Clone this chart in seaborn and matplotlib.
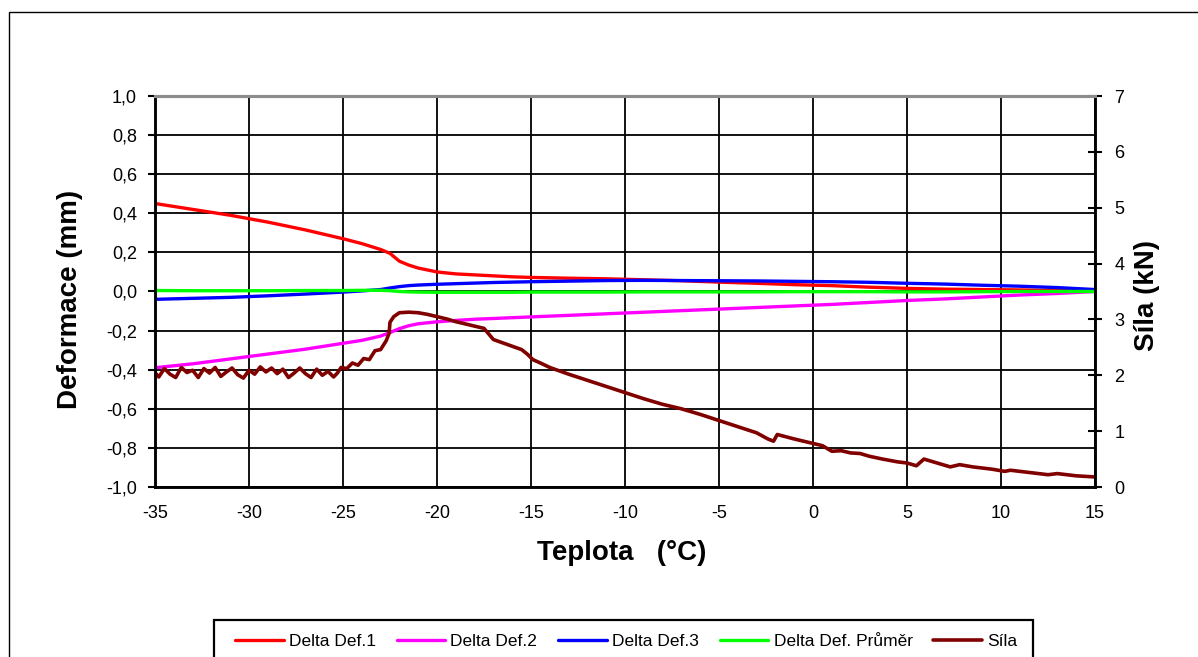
import matplotlib
matplotlib.use("Agg")
import matplotlib.pyplot as plt
import matplotlib.patches as mpatches
from matplotlib.ticker import FuncFormatter, MultipleLocator
import numpy as np
import pandas as pd
import seaborn as sns

# Temperature samples for the deformation gauges (°C)
teplota_def = [-35, -33, -31, -29, -27, -25, -24, -23, -22.5, -22, -21.5, -21,
               -20, -19, -18, -17, -16, -15, -13, -11, -9, -7, -5, -3, -1,
               1, 3, 5, 7, 9, 11, 13, 15]

# Deformation changes (mm)
delta_def1 = [0.45, 0.42, 0.39, 0.355, 0.315, 0.27, 0.245, 0.215, 0.195, 0.155, 0.135, 0.12,
              0.10, 0.09, 0.085, 0.08, 0.075, 0.072, 0.068, 0.065, 0.06, 0.055, 0.048, 0.042, 0.035,
              0.03, 0.022, 0.016, 0.012, 0.01, 0.008, 0.005, 0.003]
delta_def2 = [-0.39, -0.37, -0.345, -0.32, -0.295, -0.265, -0.25, -0.228, -0.21, -0.19, -0.175, -0.165,
              -0.155, -0.148, -0.142, -0.138, -0.134, -0.13, -0.122, -0.114, -0.106, -0.098, -0.09, -0.082, -0.074,
              -0.066, -0.056, -0.046, -0.038, -0.028, -0.018, -0.01, 0.0]
delta_def3 = [-0.04, -0.035, -0.03, -0.022, -0.013, -0.003, 0.003, 0.01, 0.018, 0.025, 0.03, 0.033,
              0.037, 0.04, 0.043, 0.046, 0.048, 0.05, 0.053, 0.056, 0.057, 0.056, 0.055, 0.054, 0.052,
              0.05, 0.047, 0.042, 0.038, 0.032, 0.027, 0.02, 0.01]
delta_prumer = [0.005, 0.004, 0.004, 0.004, 0.005, 0.005, 0.006, 0.006, 0.004, 0.0, -0.002, -0.003,
                -0.004, -0.004, -0.004, -0.004, -0.004, -0.003, -0.003, -0.003, -0.002, -0.002, -0.002, -0.002, -0.001,
                -0.001, -0.001, -0.002, -0.002, -0.001, 0.0, 0.0, 0.0]

# Force record (kN) with its own temperature samples (°C)
teplota_sila = [-35.0, -34.8, -34.5, -34.2, -33.9, -33.6, -33.3, -33.0, -32.7, -32.4,
                -32.1, -31.8, -31.5, -31.2, -30.9, -30.6, -30.3, -30.0, -29.7, -29.4,
                -29.1, -28.8, -28.5, -28.2, -27.9, -27.6, -27.3, -27.0, -26.7, -26.4,
                -26.1, -25.8, -25.5, -25.3, -25.1, -24.8, -24.5, -24.2, -23.9, -23.6,
                -23.3, -23.0, -22.7, -22.55, -22.5, -22.3, -22.0, -21.5, -21.0, -20.5,
                -20.0, -19.5, -19.0, -18.5, -18.0, -17.5, -17.3, -17.0, -16.5, -16.0,
                -15.5, -15.2, -14.9, -14.5, -14.0, -13.0, -12.0, -11.0, -10.0, -9.0,
                -8.0, -7.0, -6.0, -5.0, -4.0, -3.0, -2.4, -2.1, -1.9, -1.0,
                0.0, 0.5, 1.0, 1.5, 2.0, 2.5, 3.0, 3.7, 4.5, 5.0,
                5.5, 5.9, 6.5, 7.3, 7.8, 8.5, 9.5, 10.2, 10.5, 11.5,
                12.5, 13.0, 14.0, 15.0]
sila = [2.05, 1.97, 2.12, 2.02, 1.96, 2.14, 2.05, 2.09, 1.96, 2.12,
        2.04, 2.14, 1.98, 2.06, 2.13, 2.01, 1.95, 2.09, 2.02, 2.15,
        2.06, 2.13, 2.03, 2.11, 1.96, 2.04, 2.13, 2.03, 1.96, 2.11,
        2.00, 2.07, 1.97, 2.04, 2.14, 2.12, 2.22, 2.18, 2.30, 2.28,
        2.44, 2.46, 2.62, 2.75, 2.95, 3.05, 3.12, 3.13, 3.12, 3.09,
        3.05, 3.01, 2.96, 2.92, 2.88, 2.84, 2.76, 2.64, 2.58, 2.52,
        2.46, 2.38, 2.28, 2.22, 2.14, 2.02, 1.91, 1.80, 1.69, 1.58,
        1.48, 1.40, 1.30, 1.19, 1.08, 0.97, 0.86, 0.82, 0.94, 0.86,
        0.78, 0.74, 0.64, 0.65, 0.61, 0.60, 0.55, 0.50, 0.45, 0.43,
        0.38, 0.50, 0.44, 0.36, 0.40, 0.36, 0.32, 0.28, 0.30, 0.26,
        0.22, 0.24, 0.20, 0.18]

x_ticks = [-35, -30, -25, -20, -15, -10, -5, 0, 5, 10, 15]

serie_nazvy = ["Delta Def.1", "Delta Def.2", "Delta Def.3", "Delta Def. Průměr"]
serie_barvy = ["#FF0000", "#FF00FF", "#0000FF", "#00FF00"]

sns.set_theme(style="white")
plt.rcParams["font.family"] = ["Liberation Sans", "DejaVu Sans"]
plt.rcParams["text.color"] = "black"
plt.rcParams["axes.labelcolor"] = "black"
plt.rcParams["xtick.color"] = "black"
plt.rcParams["ytick.color"] = "black"

W, H = 1198, 657
fig = plt.figure(figsize=(W / 100, H / 100), dpi=100)
fig.patch.set_facecolor("white")

left, right, top, bottom = 155, 1095, 96, 487
ax = fig.add_axes([left / W, 1 - bottom / H, (right - left) / W, (bottom - top) / H])
ax2 = ax.twinx()

df_def = pd.DataFrame({"T": teplota_def, "Delta Def.1": delta_def1, "Delta Def.2": delta_def2,
                       "Delta Def.3": delta_def3, "Delta Def. Průměr": delta_prumer})
handles = []
for name, col in zip(serie_nazvy, serie_barvy):
    sns.lineplot(data=df_def, x="T", y=name, ax=ax, color=col, lw=2.4,
                 sort=False, estimator=None, legend=False)
    handles.append(ax.get_lines()[-1])

df_sila = pd.DataFrame({"T": teplota_sila, "Síla": sila})
sns.lineplot(data=df_sila, x="T", y="Síla", ax=ax2, color="#800000", lw=2.6,
             sort=False, estimator=None, legend=False)
handles.append(ax2.get_lines()[-1])

# Axis ranges and ticks
ax.set_xlim(-35, 15)
ax.set_ylim(-1.0, 1.0)
ax2.set_ylim(0, 7)
ax.set_xticks(x_ticks)
ax.yaxis.set_major_locator(MultipleLocator(0.2))
ax2.yaxis.set_major_locator(MultipleLocator(1))
ax.yaxis.set_major_formatter(FuncFormatter(lambda v, p: f"{v:.1f}".replace(".", ",").replace("-0,0", "0,0")))
ax.xaxis.set_major_formatter(FuncFormatter(lambda v, p: f"{v:.0f}"))
ax2.yaxis.set_major_formatter(FuncFormatter(lambda v, p: f"{v:.0f}"))

ax.grid(True, color="black", lw=1.3)
ax2.grid(False)
ax.set_axisbelow(True)

ax.tick_params(axis="y", direction="out", length=5, width=1.5, pad=8, labelsize=13)
ax.tick_params(axis="x", direction="inout", length=10, width=1.5, pad=8, labelsize=13)
ax2.tick_params(axis="y", direction="inout", length=10, width=1.5, pad=9, labelsize=13)

for a in (ax, ax2):
    for s in a.spines.values():
        s.set_color("black")
        s.set_linewidth(1.8)
    a.spines["top"].set_color("#8c8c8c")
    a.spines["top"].set_linewidth(2.2)

ax.set_xlabel("Teplota   (°C)", fontsize=20, fontweight="bold")
ax.set_ylabel("Deformace (mm)", fontsize=20, fontweight="bold")
ax2.set_ylabel("Síla (kN)", fontsize=20, fontweight="bold")
ax.xaxis.set_label_coords(0.497, -0.135)
ax.yaxis.set_label_coords(-0.077, 0.48)
ax2.yaxis.set_label_coords(1.042, 0.49)

# Legend row with its own frame
fig.legend(handles, serie_nazvy + ["Síla"], loc="center left",
           bbox_to_anchor=(235 / W, 1 - 641 / H), ncol=5, frameon=False,
           fontsize=12.5, handlelength=2.8, handletextpad=0.3, columnspacing=1.2,
           borderpad=0, borderaxespad=0)
fig.add_artist(mpatches.Rectangle((214 / W, -0.1), (1033 - 214) / W, (1 - 620 / H) + 0.1,
                                  transform=fig.transFigure, fill=False, edgecolor="black",
                                  lw=1.6, clip_on=False))
# Outer chart frame
fig.add_artist(mpatches.Rectangle((9 / W, -0.1), 1.2, (1 - 12 / H) + 0.1,
                                  transform=fig.transFigure, fill=False, edgecolor="black",
                                  lw=1.0, clip_on=False))

fig.savefig("out.png", dpi=100, facecolor="white")
